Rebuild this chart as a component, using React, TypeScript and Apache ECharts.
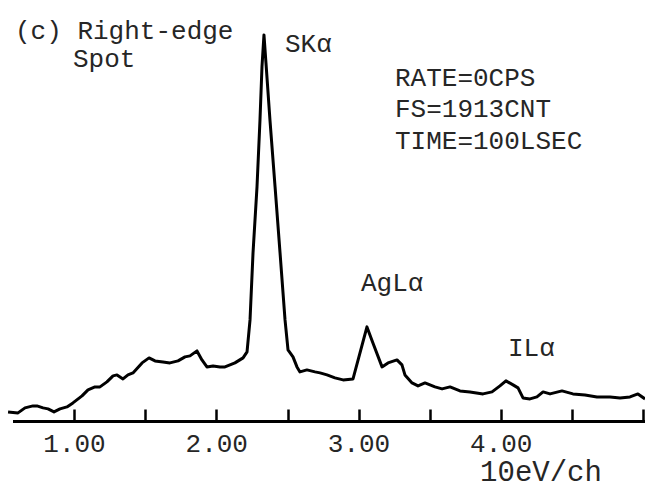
import React, { useEffect, useRef } from "react";
import * as echarts from "echarts";

// Energy (keV) and counts
const energies: number[] = [
  0.533, 0.603, 0.652, 0.708, 0.736, 0.779, 0.814, 0.856, 0.898, 0.947, 0.989,
  1.053, 1.095, 1.144, 1.179, 1.228, 1.271, 1.299, 1.341, 1.376, 1.411, 1.475,
  1.524, 1.566, 1.622, 1.671, 1.728, 1.777, 1.812, 1.861, 1.896, 1.931, 1.974,
  2.023, 2.058, 2.128, 2.185, 2.213, 2.234, 2.255, 2.283, 2.304, 2.318, 2.332,
  2.346, 2.374, 2.41, 2.445, 2.48, 2.501, 2.536, 2.564, 2.585, 2.634, 2.691,
  2.726, 2.775, 2.831, 2.888, 2.958, 3.007, 3.056, 3.098, 3.162, 3.204, 3.267,
  3.302, 3.323, 3.373, 3.415, 3.464, 3.534, 3.584, 3.64, 3.71, 3.78, 3.872,
  3.935, 3.991, 4.033, 4.083, 4.118, 4.153, 4.202, 4.251, 4.294, 4.343, 4.427,
  4.504, 4.589, 4.673, 4.765, 4.835, 4.905, 4.961, 5.011,
];
const counts: number[] = [
  48, 43, 68, 78, 78, 68, 63, 48, 63, 73, 93,
  128, 158, 173, 173, 198, 228, 233, 213, 233, 243, 293,
  318, 303, 298, 293, 303, 323, 328, 353, 308, 273, 278,
  273, 273, 293, 318, 348, 508, 843, 1173, 1508, 1773, 1933,
  1793, 1508, 1173, 843, 508, 358, 323, 273, 248, 258, 248,
  243, 233, 218, 208, 213, 343, 473, 393, 273, 293, 308,
  283, 233, 193, 178, 193, 173, 163, 173, 153, 148, 138,
  148, 178, 203, 183, 168, 118, 113, 123, 148, 138, 153,
  138, 133, 123, 123, 118, 123, 138, 113,
];
const tickValues: number[] = [1, 1.5, 2, 2.5, 3, 3.5, 4, 4.5, 5];
const labelValues: number[] = [1, 2, 3, 4];

const X_MIN = 0.4763;
const X_MAX = 5.0106;
const AXIS_START = 0.5677;

const FONT = "'Liberation Mono', 'DejaVu Sans Mono', monospace";
const TXT = "#262626";

export default function App() {
  const ref = useRef<HTMLDivElement>(null);
  useEffect(() => {
    if (!ref.current) return;
    const chart = echarts.init(ref.current, null, { renderer: "svg" });
    const data = energies.map((e, i) => [e, counts[i]]);
    const txt = (text: string, x: number, y: number, size = 26, align = "left") => ({
      type: "text",
      x,
      y,
      style: {
        text,
        fill: TXT,
        font: `${size}px ${FONT}`,
        lineHeight: 22,
        verticalAlign: "middle",
        align,
      },
    });
    chart.setOption({
      animation: false,
      backgroundColor: "#ffffff",
      grid: { left: 0, right: 0, top: 21.5, bottom: 67.5 },
      xAxis: {
        type: "value",
        min: X_MIN,
        max: X_MAX,
        axisLine: { show: false },
        splitLine: { show: false },
        axisTick: {
          show: true,
          inside: true,
          length: 12,
          lineStyle: { color: "#000", width: 2.5 },
          customValues: tickValues,
        },
        axisLabel: {
          show: true,
          customValues: labelValues,
          formatter: (v: number) => v.toFixed(2),
          fontFamily: FONT,
          fontSize: 26,
          color: TXT,
          margin: 10,
        },
      },
      yAxis: {
        type: "value",
        min: 0,
        max: 2000,
        show: false,
        splitLine: { show: false },
      },
      series: [
        {
          type: "line",
          data,
          showSymbol: false,
          symbol: "none",
          lineStyle: { color: "#000", width: 3, join: "round" },
          markLine: {
            silent: true,
            symbol: ["none", "none"],
            label: { show: false },
            lineStyle: { color: "#000", width: 3, type: "solid" },
            data: [[{ coord: [AXIS_START, 0] }, { coord: [X_MAX, 0] }]],
          },
        },
      ],
      graphic: [
        txt("(c) Right-edge", 15, 32),
        txt("Spot", 73, 60),
        txt("SKα", 285, 45),
        txt("RATE=0CPS", 395, 79),
        txt("FS=1913CNT", 395, 110),
        txt("TIME=100LSEC", 395, 142),
        txt("AgLα", 361, 284),
        txt("ILα", 508, 349),
        txt("10eV/ch", 541, 473, 29, "center"),
      ],
    });
    return () => chart.dispose();
  }, []);
  return (
    <div
      ref={ref}
      style={{ position: "absolute", left: 0, top: 0, width: 645, height: 489 }}
    />
  );
}
